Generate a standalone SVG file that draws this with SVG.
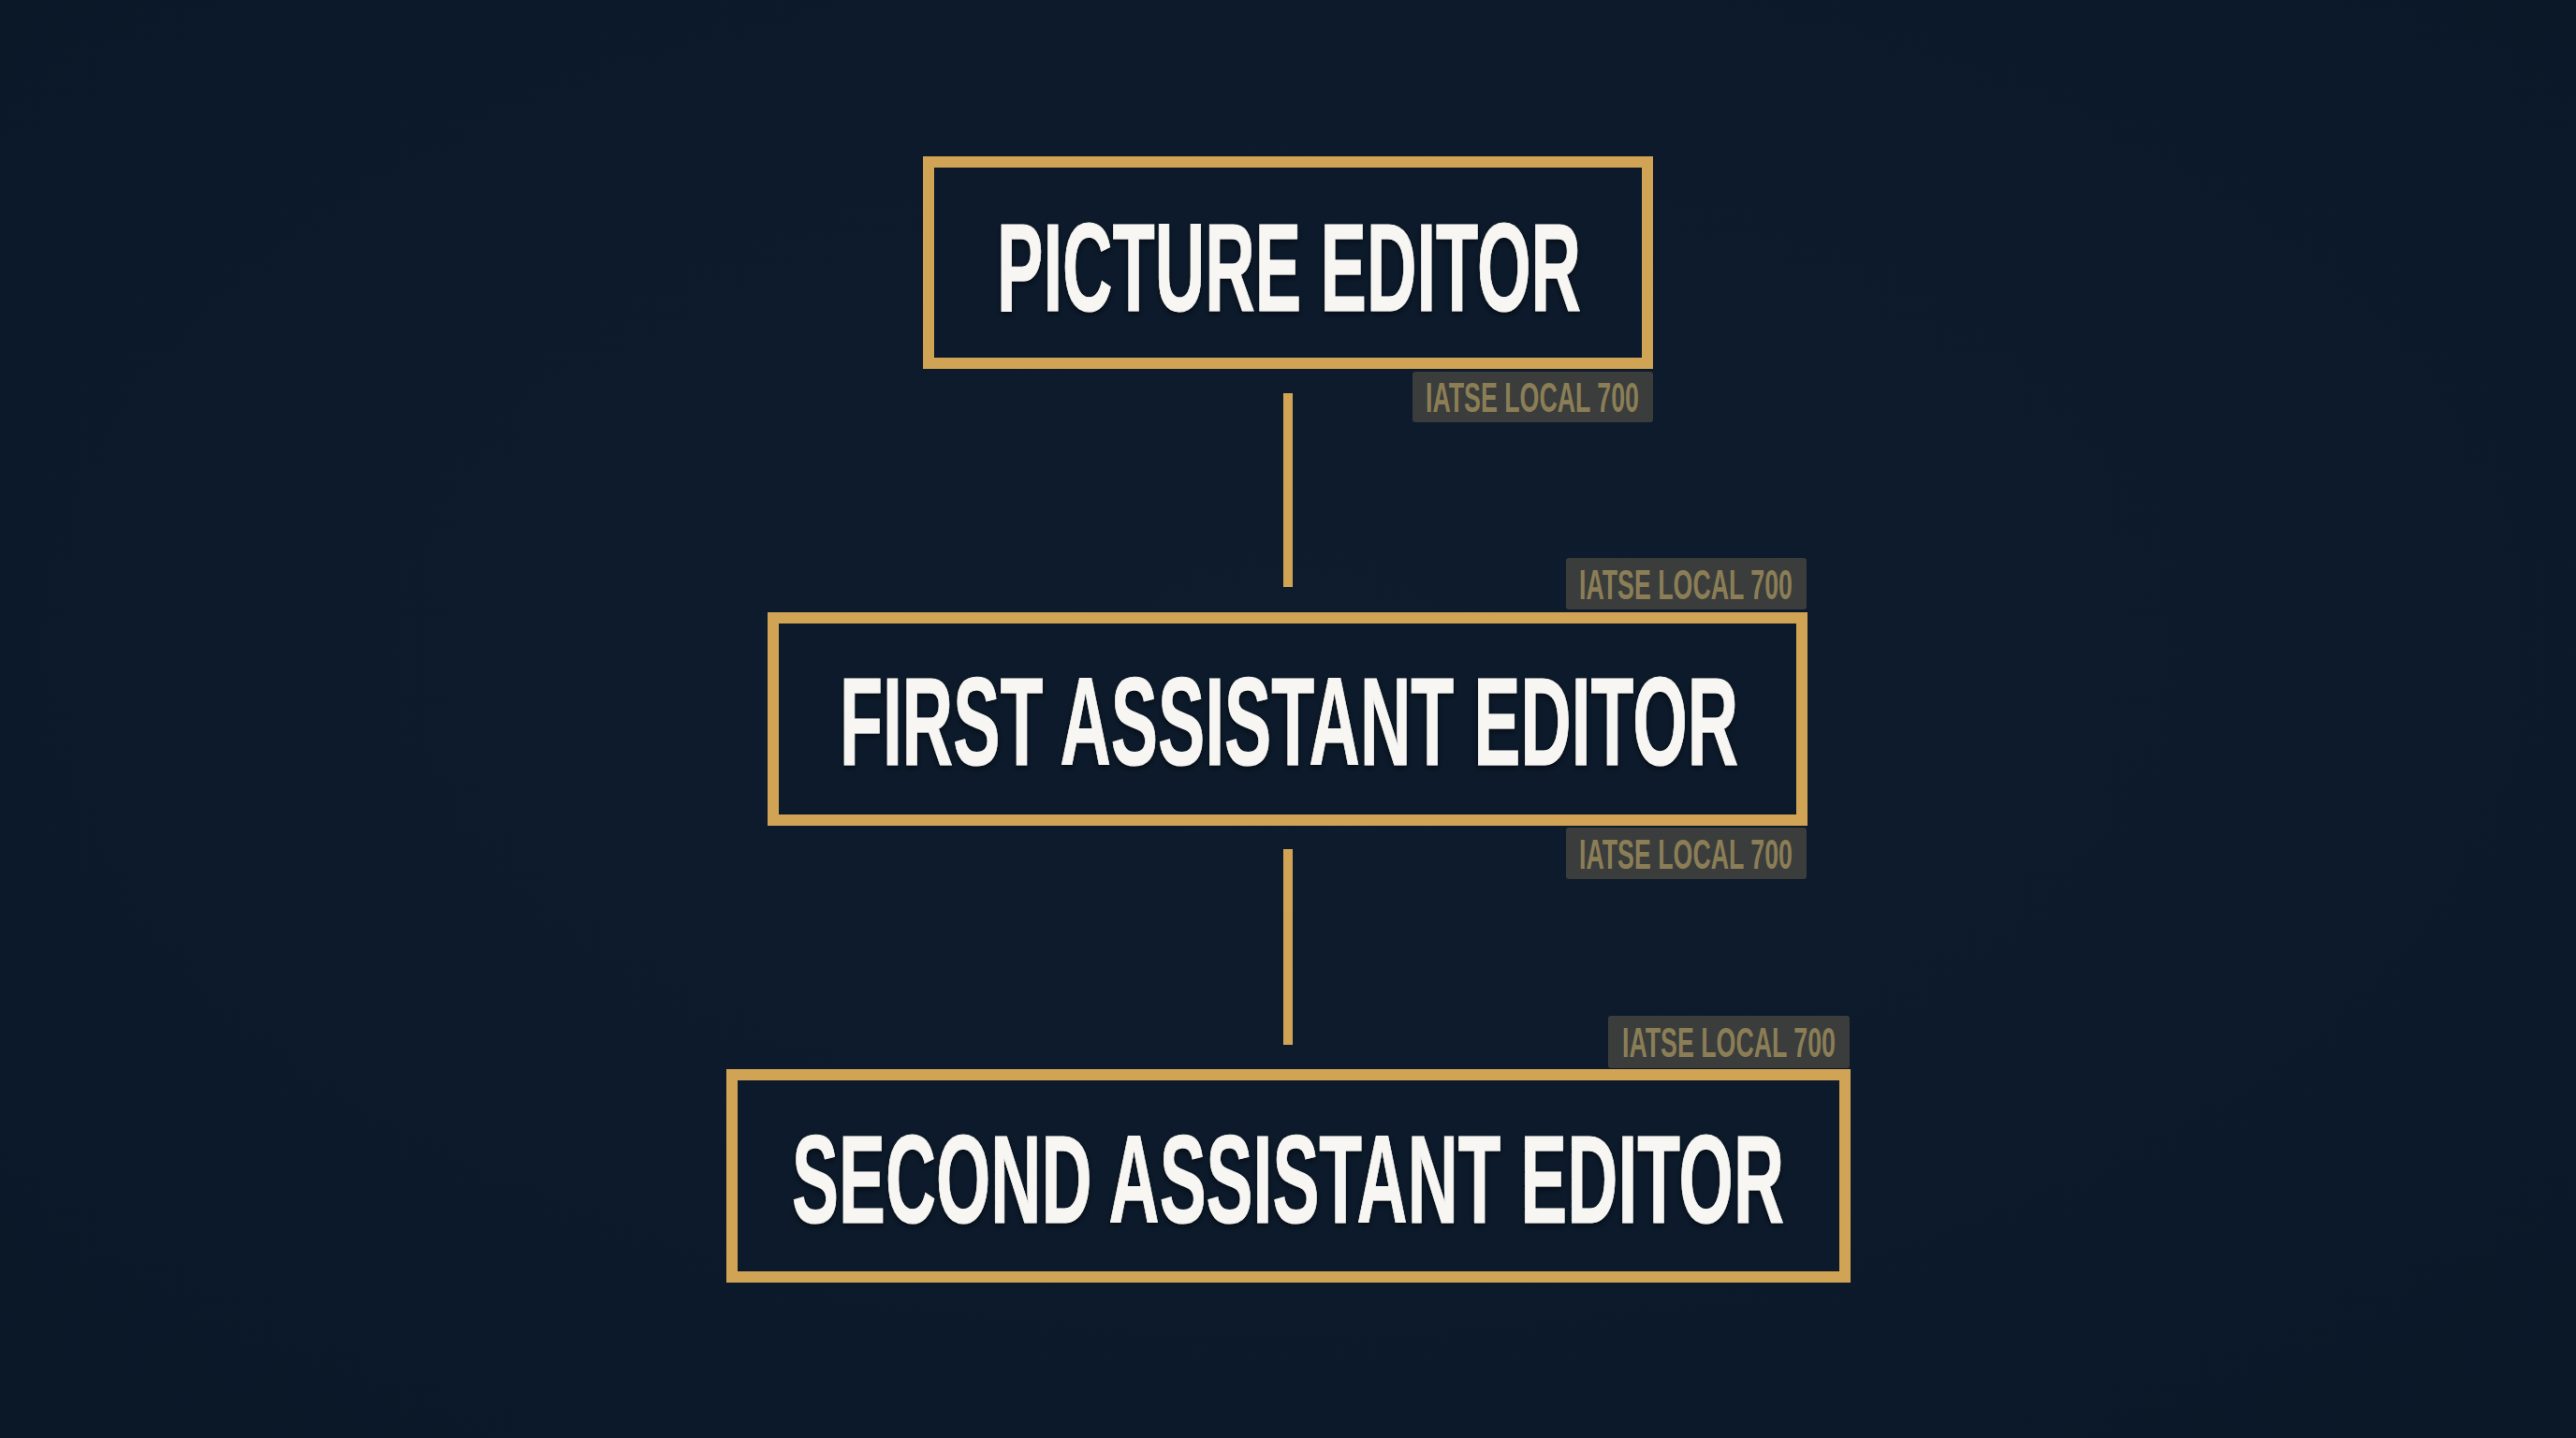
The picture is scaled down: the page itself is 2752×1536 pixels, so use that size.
<svg xmlns="http://www.w3.org/2000/svg" width="2752" height="1536" viewBox="0 0 2752 1536">
  <defs>
    <radialGradient id="bg" cx="50%" cy="45%" r="75%">
      <stop offset="0" stop-color="#0e1c2e"/>
      <stop offset="1" stop-color="#0b1828"/>
    </radialGradient>
    <filter id="sh" x="-5%" y="-20%" width="110%" height="140%">
      <feDropShadow dx="0" dy="3" stdDeviation="3" flood-color="#000" flood-opacity="0.5"/>
    </filter>
  </defs>
  <style>
    .box { fill: #0c1a2b; stroke: #d0a454; stroke-width: 12; }
    .title { font-family: "Liberation Sans", "DejaVu Sans", sans-serif; font-weight: bold; font-size: 134px; fill: #f7f6f2; stroke: #f7f6f2; stroke-width: 1; text-anchor: middle; }
    .tag { fill: #3a3d3b; }
    .tagtext { font-family: "Liberation Sans", "DejaVu Sans", sans-serif; font-weight: bold; font-size: 44px; fill: #8b7e57; text-anchor: middle; }
    .conn { fill: #d0a454; }
  </style>
  <rect x="0" y="0" width="2752" height="1536" fill="url(#bg)"/>

  <g id="connectors">
    <rect class="conn" x="1371" y="420" width="10" height="207"/>
    <rect class="conn" x="1371" y="907" width="10" height="209"/>
  </g>

  <g id="picture-editor">
    <rect class="box" x="992" y="173" width="768" height="215"/>
    <text class="title" x="1377" y="332" textLength="624" lengthAdjust="spacingAndGlyphs" filter="url(#sh)">PICTURE EDITOR</text>
    <rect class="tag" x="1509" y="397" width="257" height="54" rx="3"/>
    <text class="tagtext" x="1637" y="440" textLength="228" lengthAdjust="spacingAndGlyphs">IATSE LOCAL 700</text>
  </g>

  <g id="first-assistant-editor">
    <rect class="tag" x="1673" y="596" width="257" height="55" rx="3"/>
    <text class="tagtext" x="1801" y="640" textLength="228" lengthAdjust="spacingAndGlyphs">IATSE LOCAL 700</text>
    <rect class="box" x="826" y="660" width="1099" height="216"/>
    <text class="title" x="1377" y="817" textLength="960" lengthAdjust="spacingAndGlyphs" filter="url(#sh)">FIRST ASSISTANT EDITOR</text>
    <rect class="tag" x="1673" y="884" width="257" height="55" rx="3"/>
    <text class="tagtext" x="1801" y="928" textLength="228" lengthAdjust="spacingAndGlyphs">IATSE LOCAL 700</text>
  </g>

  <g id="second-assistant-editor">
    <rect class="tag" x="1718" y="1085" width="258" height="56" rx="3"/>
    <text class="tagtext" x="1847" y="1129" textLength="228" lengthAdjust="spacingAndGlyphs">IATSE LOCAL 700</text>
    <rect class="box" x="782" y="1148" width="1189" height="216"/>
    <text class="title" x="1376" y="1306" textLength="1060" lengthAdjust="spacingAndGlyphs" filter="url(#sh)">SECOND ASSISTANT EDITOR</text>
  </g>
</svg>
